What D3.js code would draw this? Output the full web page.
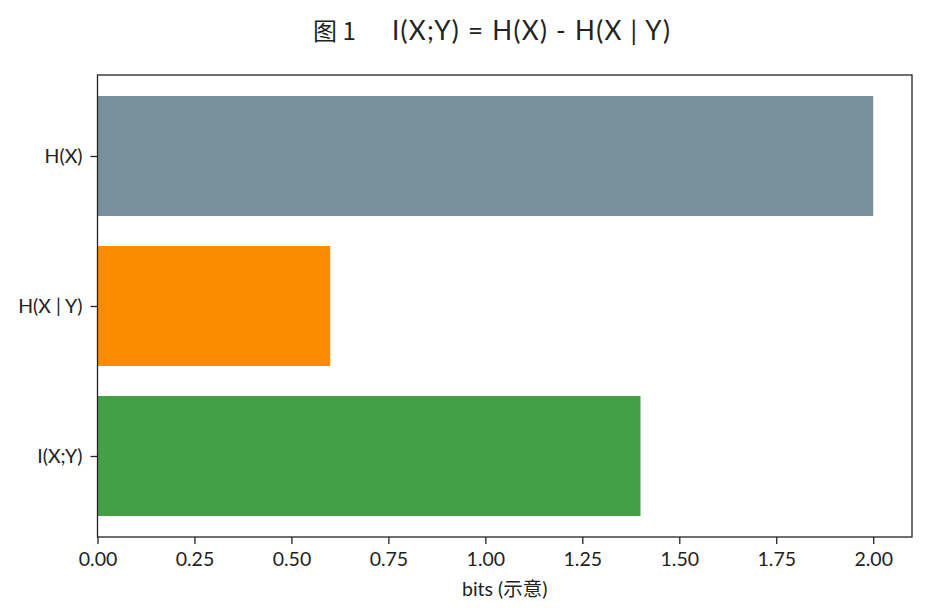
<!DOCTYPE html>
<html>
<head>
<meta charset="utf-8">
<script src="https://cdn.jsdelivr.net/npm/d3@7"></script>
<style>
  body { margin: 0; background: #fff; }
  text { font-family: Lato, "Noto Sans CJK SC", sans-serif; fill: #222; }
</style>
</head>
<body>
<div id="chart"></div>
<script>
const categories = ["I(X;Y)", "H(X | Y)", "H(X)"]
const values = [1.4, 0.6, 2.0]
const colors = ["#43a047", "#fb8c00", "#78909c"]
const xTicks = [0, 0.25, 0.5, 0.75, 1.0, 1.25, 1.5, 1.75, 2.0]

const W = 927, H = 615
const MARGIN = { TOP: 75, BOTTOM: 78, LEFT: 97.5, RIGHT: 15 }
const WIDTH = W - MARGIN.LEFT - MARGIN.RIGHT
const HEIGHT = H - MARGIN.TOP - MARGIN.BOTTOM
const FONT = 19.5

const svg = d3.select("#chart").append("svg")
  .attr("width", W).attr("height", H)

// title: figure number + formula
svg.append("text")
  .attr("x", 313).attr("y", 40)
  .style("font-size", "24px")
  .style("font-family", "'Noto Sans CJK SC', sans-serif")
  .text("图 1")

svg.append("text")
  .attr("x", 392).attr("y", 40)
  .style("font-size", "26px")
  .style("letter-spacing", "1.3px")
  .text("I(X;Y) = H(X) - H(X | Y)")

const g = svg.append("g")
  .attr("transform", `translate(${MARGIN.LEFT}, ${MARGIN.TOP})`)

const x = d3.scaleLinear().domain([0, 2.1]).range([0, WIDTH])
// matplotlib-like bar positions: index 0..2, height 0.8, 5% margins
const y = d3.scaleLinear().domain([-0.54, 2.54]).range([HEIGHT, 0])
const barH = 0.8

g.selectAll("rect.bar")
  .data(categories)
  .enter()
  .append("rect")
  .attr("class", "bar")
  .attr("x", x(0))
  .attr("y", (d, i) => y(i + barH / 2))
  .attr("width", (d, i) => x(values[i]) - x(0))
  .attr("height", y(0) - y(barH))
  .attr("fill", (d, i) => colors[i])

// frame
g.append("rect")
  .attr("x", 0).attr("y", 0)
  .attr("width", WIDTH).attr("height", HEIGHT)
  .attr("fill", "none")
  .attr("stroke", "#222")
  .attr("stroke-width", 1.3)

const xAxis = g.append("g")
  .attr("transform", `translate(0, ${HEIGHT})`)
  .call(d3.axisBottom(x).tickValues(xTicks).tickFormat(d3.format(".2f")).tickSize(7).tickPadding(8))

const yAxis = g.append("g")
  .call(d3.axisLeft(y).tickValues([0, 1, 2]).tickFormat(i => categories[i]).tickSize(7).tickPadding(8))

;[xAxis, yAxis].forEach(a => {
  a.select(".domain").remove()
  a.selectAll(".tick line").attr("stroke", "#222").attr("stroke-width", 1.3)
  a.selectAll(".tick text")
    .style("font-size", FONT + "px")
    .style("font-family", "Lato, sans-serif")
    .attr("fill", "#222")
})

svg.append("text")
  .attr("x", MARGIN.LEFT + WIDTH / 2)
  .attr("y", 596)
  .attr("text-anchor", "middle")
  .style("font-size", FONT + "px")
  .text("bits (示意)")
</script>
</body>
</html>
